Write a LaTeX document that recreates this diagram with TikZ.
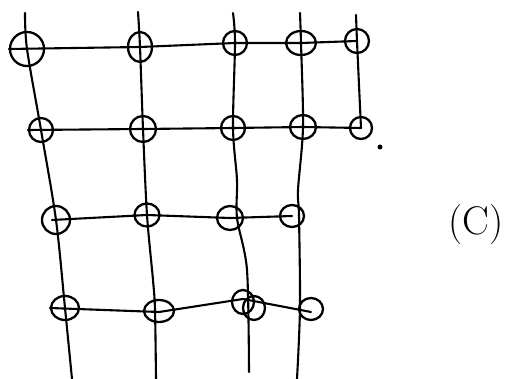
\documentclass[tikz,border=0pt]{standalone}
\usetikzlibrary{shapes.geometric}
\begin{document}
\begin{tikzpicture}[x=1pt,y=-1pt,
  ink/.style={line width=2.1pt, line cap=round, line join=round, black},
  ring/.style={draw, ellipse, line width=2.3pt, inner sep=0pt, black},
  label/.style={font=\fontsize{40}{42}\selectfont, inner sep=0pt}]
\useasboundingbox (0,0) rectangle (509,379);
% rings
\node[ring, minimum width=34pt, minimum height=34pt] (a1) at (27,49) {};
\node[ring, minimum width=24pt, minimum height=30pt] (b1) at (140,47) {};
\node[ring, minimum width=24pt, minimum height=24pt] (c1) at (235,43) {};
\node[ring, minimum width=30pt, minimum height=24pt] (d1) at (301,43) {};
\node[ring, minimum width=24pt, minimum height=24pt] (e1) at (357,41) {};
\node[ring, minimum width=24pt, minimum height=24pt] (a2) at (41,130) {};
\node[ring, minimum width=26pt, minimum height=26pt] (b2) at (143,129) {};
\node[ring, minimum width=24pt, minimum height=24pt] (c2) at (233,128) {};
\node[ring, minimum width=26pt, minimum height=24pt] (d2) at (303,127) {};
\node[ring, minimum width=22pt, minimum height=22pt] (e2) at (361,128) {};
\node[ring, minimum width=28pt, minimum height=28pt] (a3) at (56,220) {};
\node[ring, minimum width=25pt, minimum height=23pt] (b3) at (147,215) {};
\node[ring, minimum width=26pt, minimum height=24pt] (c3) at (230,218) {};
\node[ring, minimum width=24pt, minimum height=22pt] (d3) at (292,216) {};
\node[ring, minimum width=28pt, minimum height=24pt] (a4) at (65,308) {};
\node[ring, minimum width=30pt, minimum height=22pt] (b4) at (159,311) {};
\node[ring, minimum width=22pt, minimum height=24pt] (c4) at (243,302) {};
\node[ring, minimum width=22pt, minimum height=24pt] (c4b) at (254,308) {};
\node[ring, minimum width=24pt, minimum height=22pt] (d4) at (311,309) {};
% free ends and bends
\coordinate (tA) at (25,13);
\coordinate (bA) at (72,379);
\coordinate (tB) at (138,12);
\coordinate (mB) at (153,280);
\coordinate (qB) at (155,310);
\coordinate (bB) at (156,379);
\coordinate (tC) at (233,13);
\coordinate (mC1) at (237,180);
\coordinate (qC) at (237,218);
\coordinate (mC2) at (247,270);
\coordinate (bC) at (249,372);
\coordinate (tD) at (300,13);
\coordinate (mD1) at (298,190);
\coordinate (qD3) at (299,216);
\coordinate (qD4) at (300,307);
\coordinate (bD) at (297,379);
\coordinate (tE) at (356,15);
\coordinate (mE) at (359,85);
% vertical strokes
\draw[ink] plot[smooth, tension=0.5] coordinates {(tA) (a1.center) (a2.center) (a3.center) (a4.center) (bA)};
\draw[ink] plot[smooth, tension=0.5] coordinates {(tB) (b1.center) (b2.center) (b3.center) (mB) (qB) (bB)};
\draw[ink] plot[smooth, tension=0.5] coordinates {(tC) (c1.center) (c2.center) (mC1) (qC) (mC2) (bC)};
\draw[ink] plot[smooth, tension=0.5] coordinates {(tD) (d1.center) (d2.center) (mD1) (qD3) (qD4) (bD)};
\draw[ink] plot[smooth, tension=0.5] coordinates {(tE) (e1.center) (mE) (e2.center)};
% horizontal strokes
\draw[ink] (a1.west) -- (b1.center) -- (c1.center) -- (d1.center) -- (e1.center);
\draw[ink] (a2.west) -- (b2.center) -- (c2.center) -- (d2.center) -- (e2.center);
\draw[ink] ([xshift=-4pt]a3.center) -- (b3.center) -- (c3.center) -- (d3.center);
\draw[ink] (a4.west) -- ([yshift=-1pt]b4.center) -- ([yshift=3pt]c4.center) -- ([yshift=-3pt]d4.center);
% stray dot
\node[circle, fill=black, inner sep=0pt, minimum size=5pt] (dot) at (380,147) {};
% label
\node[label] (lbl) at (476,225) {(C)};
\end{tikzpicture}
\end{document}
